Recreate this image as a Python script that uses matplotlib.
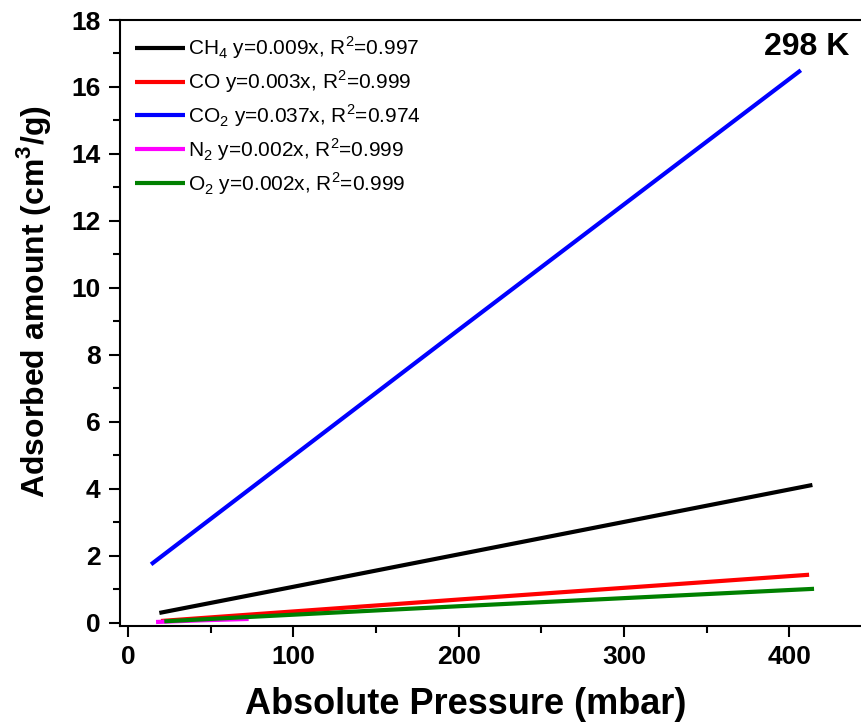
import matplotlib
matplotlib.use("Agg")
import matplotlib.pyplot as plt
from matplotlib.ticker import MultipleLocator

plt.rcParams['font.family'] = ['Liberation Sans', 'DejaVu Sans']
plt.rcParams['mathtext.fontset'] = 'custom'
plt.rcParams['mathtext.rm'] = 'Liberation Sans'
plt.rcParams['mathtext.bf'] = 'Liberation Sans:bold'

# adsorption data at 298 K (pressure in mbar, amount in cm3/g)
ch4_p = [19, 100, 414]
ch4_q = [0.30, 1.08, 4.12]
co_p = [20, 200, 412]
co_q = [0.06, 0.70, 1.44]
co2_p = [14, 200, 407]
co2_q = [1.75, 8.75, 16.50]
n2_p = [17, 45, 73]
n2_q = [0.03, 0.08, 0.12]
o2_p = [22, 200, 415]
o2_q = [0.05, 0.50, 1.02]

labels = ["CH$_4$ y=0.009x, R$^2$=0.997",
          "CO y=0.003x, R$^2$=0.999",
          "CO$_2$ y=0.037x, R$^2$=0.974",
          "N$_2$ y=0.002x, R$^2$=0.999",
          "O$_2$ y=0.002x, R$^2$=0.999"]
colors = ["black", "red", "blue", "magenta", "green"]

fig = plt.figure(figsize=(8.62, 7.25), dpi=100)
ax = fig.add_axes([120/862, 1 - 626/725, 742/862, 606/725])

series = [(ch4_p, ch4_q), (co_p, co_q), (co2_p, co2_q), (n2_p, n2_q), (o2_p, o2_q)]
for (p, q), lab, c in zip(series, labels, colors):
    ax.plot(p, q, color=c, lw=3, label=lab, solid_capstyle='butt')

ax.set_xlim(-4.8, 444)
ax.set_ylim(-0.09, 18)
ax.xaxis.set_major_locator(MultipleLocator(100))
ax.xaxis.set_minor_locator(MultipleLocator(50))
ax.yaxis.set_major_locator(MultipleLocator(2))
ax.yaxis.set_minor_locator(MultipleLocator(1))
ax.tick_params(which='major', direction='out', length=8, width=1.5, labelsize=19, pad=6)
ax.tick_params(which='minor', direction='out', length=5, width=1.5)
ax.tick_params(top=False, right=False, which='both')
for lbl in ax.get_xticklabels() + ax.get_yticklabels():
    lbl.set_fontweight('bold')
for s in ['left', 'bottom', 'top']:
    ax.spines[s].set_linewidth(1.5)
ax.spines['right'].set_visible(False)

ax.set_xlabel("Absolute Pressure (mbar)", fontsize=26, fontweight='bold')
ax.set_ylabel("Adsorbed amount (cm$^\\mathbf{3}$/g)", fontsize=23, fontweight='bold')
ax.xaxis.set_label_coords(0.466, -0.1)
ax.yaxis.set_label_coords(-0.09, 0.535)

ax.text(0.983, 0.955, "298 K", transform=ax.transAxes, fontsize=23,
        fontweight='bold', ha='right', va='center')

ax.legend(loc='upper left', frameon=False, fontsize=15, handlelength=2.4,
          handletextpad=0.15, labelspacing=0.35, borderaxespad=0.3,
          bbox_to_anchor=(0.0, 1.0))

fig.savefig("out.png", dpi=100)
